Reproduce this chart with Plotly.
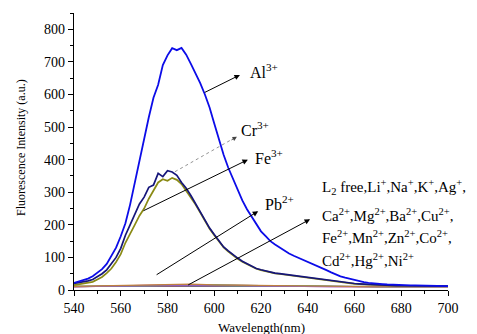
import plotly.graph_objects as go

# ---------------- data ----------------
wavelength = list(range(540, 702, 2))

al3 = [22, 26, 30, 35, 42, 52, 64, 80, 104, 130, 165, 205, 262, 330, 395, 460, 530, 590, 630, 690,
       720, 742, 736, 743, 722, 694, 665, 635, 600, 560, 511, 462, 415, 375, 340, 305, 275, 248, 224, 200,
       180, 165, 150, 140, 130, 120, 112, 105, 99, 93, 86, 80, 74, 68, 61, 54, 47, 42, 38, 34,
       30, 27, 24, 22, 20, 19, 18, 17, 16, 16, 15, 15, 14, 14, 14, 13, 13, 13, 12, 12, 12]
al3 = al3[:len(wavelength)]

cr3 = [20, 22, 25, 28, 32, 40, 50, 62, 80, 100, 128, 168, 200, 230, 264, 285, 315, 322, 358, 348,
       366, 362, 352, 330, 312, 290, 265, 240, 215, 190, 170, 150, 132, 120, 108, 98, 88, 80, 72, 66,
       62, 58, 55, 52, 50, 48, 46, 44, 42, 40, 38, 36, 34, 32, 30, 28, 26, 25, 23, 22,
       20, 19, 18, 17, 16, 15, 15, 14, 14, 13, 13, 13, 13, 12, 12, 12, 12, 12, 12, 12, 12]
cr3 = cr3[:len(wavelength)]

fe3 = [15, 17, 19, 22, 25, 32, 40, 52, 66, 86, 110, 145, 175, 200, 228, 250, 280, 305, 330, 340,
       335, 344, 338, 325, 305, 285, 262, 238, 213, 188, 168, 148, 131, 118, 106, 96, 87, 79, 71, 65,
       61, 57, 54, 51, 49, 47, 45, 43, 41, 39, 37, 35, 33, 31, 29, 27, 25, 24, 22, 21,
       19, 18, 17, 16, 15, 15, 14, 14, 13, 13, 13, 12, 12, 12, 12, 12, 12, 12, 12, 12, 12]
fe3 = fe3[:len(wavelength)]

wl_flat = [540, 550, 560, 570, 580, 590, 600, 610, 620, 630, 640, 650, 660, 670, 680, 690, 700]
flat_series = {
    "L2 free": [11, 11, 11, 11, 12, 12, 12, 12, 12, 12, 11, 11, 11, 11, 11, 11, 11],
    "Li+": [10, 11, 12, 13, 14, 15, 15, 14, 13, 12, 11, 11, 10, 10, 10, 10, 10],
    "Na+": [10, 11, 12, 14, 16, 16, 15, 14, 12, 11, 11, 10, 10, 10, 10, 10, 10],
    "K+": [10, 11, 13, 15, 16, 17, 16, 14, 13, 12, 11, 10, 10, 10, 10, 10, 10],
    "Ag+": [10, 12, 13, 14, 15, 14, 13, 13, 12, 11, 11, 10, 10, 10, 10, 10, 10],
    "Ca2+": [11, 11, 12, 13, 14, 16, 14, 12, 13, 12, 11, 11, 10, 10, 10, 10, 10],
    "Mg2+": [10, 11, 12, 13, 13, 14, 13, 12, 12, 11, 11, 10, 10, 10, 10, 10, 10],
    "Pb2+": [11, 12, 14, 15, 17, 18, 16, 15, 13, 12, 11, 11, 10, 10, 10, 10, 10],
}
flat_colors = ["#6b6b6b", "#e03030", "#f09020", "#30c0d0", "#d040c0", "#40b040", "#9060c0", "#c08040"]

x_ticks = [540, 560, 580, 600, 620, 640, 660, 680, 700]
y_ticks = [0, 100, 200, 300, 400, 500, 600, 700, 800]

# ---------------- figure ----------------
fig = go.Figure()
for (name, vals), col in zip(flat_series.items(), flat_colors):
    fig.add_trace(go.Scatter(x=wl_flat, y=vals, mode="lines", name=name,
                             line=dict(color=col, width=1.2)))
fig.add_trace(go.Scatter(x=wavelength, y=fe3, mode="lines", name="Fe3+",
                         line=dict(color="#8a8a14", width=1.7)))
fig.add_trace(go.Scatter(x=wavelength, y=cr3, mode="lines", name="Cr3+",
                         line=dict(color="#15157a", width=1.7)))
fig.add_trace(go.Scatter(x=wavelength, y=al3, mode="lines", name="Al3+",
                         line=dict(color="#0c0ce8", width=1.8)))

FONT = "Times New Roman, Liberation Serif, serif"

def arrow(x, y, ax, ay, color="black", width=1.0):
    fig.add_annotation(x=x, y=y, ax=ax, ay=ay, xref="x", yref="y", axref="x", ayref="y",
                       text="", showarrow=True, arrowhead=2, arrowsize=1.1,
                       arrowwidth=width, arrowcolor=color)

arrow(611.0, 660, 595.3, 604)          # Al3+
arrow(614.4, 400, 569.1, 241)          # Fe3+
arrow(618.8, 242, 574.7, 44)           # Pb2+
arrow(641.0, 217, 588.2, 13)           # others
# Cr3+ dotted arrow
fig.add_shape(type="line", x0=583.2, y0=363, x1=608.5, y1=466, xref="x", yref="y",
              line=dict(color="#777777", width=0.8, dash="dot"))
fig.add_annotation(x=609.7, y=470, ax=-7, ay=4, xref="x", yref="y", text="", showarrow=True,
                   arrowhead=2, arrowsize=1.1, arrowwidth=0.8, arrowcolor="#444444")

def label(x, y, text, size=15):
    fig.add_annotation(x=x, y=y, xref="x", yref="y", text=text, showarrow=False,
                       xanchor="left", yanchor="middle", font=dict(family=FONT, size=size, color="black"))

label(614.4, 672, "Al<sup>3+</sup>", 16)
label(610.6, 494, "Cr<sup>3+</sup>", 16)
label(616.4, 409, "Fe<sup>3+</sup>", 16)
label(621.0, 266, "Pb<sup>2+</sup>", 16)
label(645.3, 316, "L<sub>2</sub> free,Li<sup>+</sup>,Na<sup>+</sup>,K<sup>+</sup>,Ag<sup>+</sup>,")
label(645.3, 230, "Ca<sup>2+</sup>,Mg<sup>2+</sup>,Ba<sup>2+</sup>,Cu<sup>2+</sup>,")
label(645.3, 163, "Fe<sup>2+</sup>,Mn<sup>2+</sup>,Zn<sup>2+</sup>,Co<sup>2+</sup>,")
label(645.3, 93, "Cd<sup>2+</sup>,Hg<sup>2+</sup>,Ni<sup>2+</sup>")

fig.add_annotation(x=0.5, y=-0.135, xref="paper", yref="paper", text="Wavelength(nm)",
                   showarrow=False, xanchor="center", yanchor="middle",
                   font=dict(family=FONT, size=13, color="black"))
fig.add_annotation(x=-0.14, y=0.515, xref="paper", yref="paper", text="Fluorescence Intensity (a.u.)",
                   showarrow=False, xanchor="center", yanchor="middle", textangle=-90,
                   font=dict(family=FONT, size=12, color="black"))

axis_common = dict(showgrid=False, zeroline=False, showline=True, linecolor="black", linewidth=1.3,
                   ticks="outside", ticklen=5, tickwidth=1.2, tickcolor="black",
                   tickfont=dict(family=FONT, size=14, color="black"))
fig.update_xaxes(range=[540, 700], tickvals=x_ticks, ticktext=[str(v) for v in x_ticks],
                 minor=dict(dtick=10, tick0=540, ticks="outside", ticklen=3, tickcolor="black"),
                 **axis_common)
fig.update_yaxes(range=[0, 850], tickvals=y_ticks, ticktext=[str(v) for v in y_ticks],
                 minor=dict(dtick=50, tick0=0, ticks="outside", ticklen=3, tickcolor="black"),
                 **axis_common)

# the page adds an 8 px body margin, so the figure is sized/offset to compensate
fig.update_layout(width=469, height=326, margin=dict(l=66, r=29, t=5, b=44),
                  plot_bgcolor="white", paper_bgcolor="white", showlegend=False)

fig.write_html("out.html")
